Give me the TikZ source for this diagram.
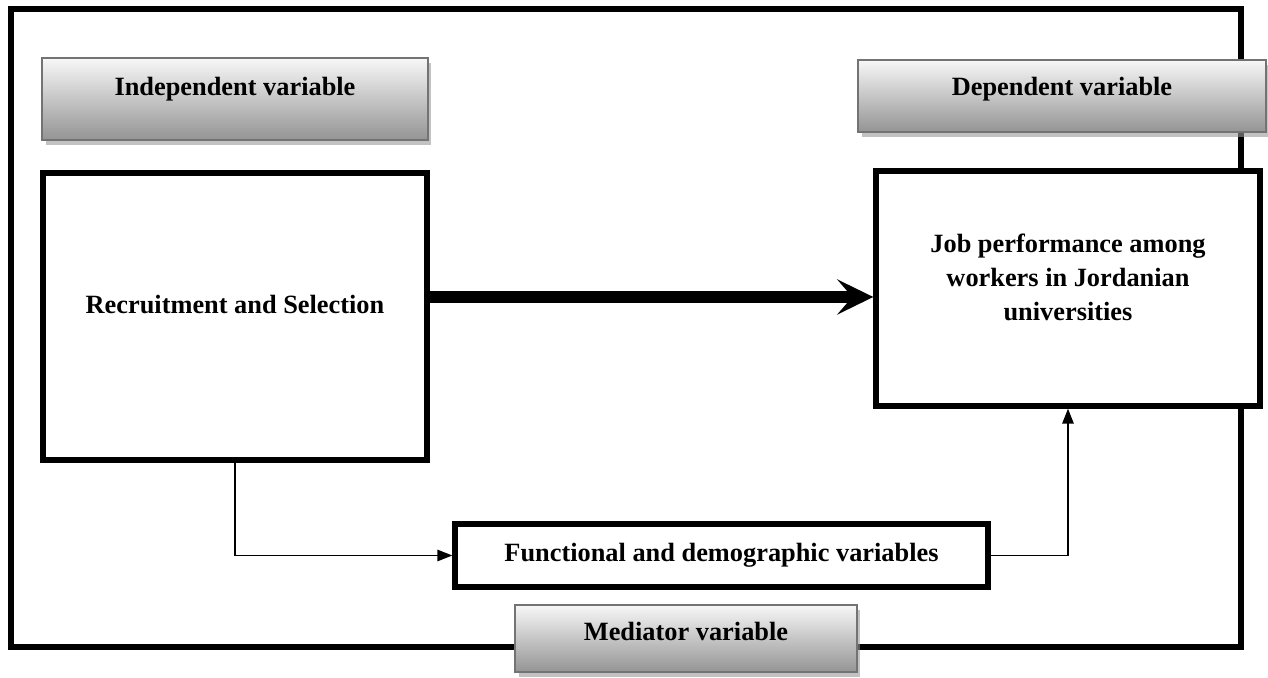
\documentclass[tikz,border=0pt]{standalone}
\usepackage{fontspec}
\setmainfont{Liberation Serif}
\usetikzlibrary{arrows.meta,shadows}

\begin{document}
\begin{tikzpicture}[x=0.02cm,y=-0.02cm,
font=\fontsize{15}{19.5}\selectfont\bfseries,
box/.style={draw,fill=white,line width=3.1pt,align=center,inner sep=0pt},
tag/.style={draw=black!55,line width=1.2pt,top color=black!3,bottom color=black!42,inner sep=0pt,anchor=base,
  drop shadow={shadow xshift=0.07cm,shadow yshift=-0.1cm,fill=black!40,opacity=0.6}},
arw/.style={-{Triangle[length=0.3cm,width=0.23cm]},line width=0.85pt},
bigarw/.style={-{Stealth[length=0.72cm,width=0.7cm,inset=0.3cm]},line width=6.8pt}
]
%\draw[help lines,step=50](0,0)grid(1268,678);
\useasboundingbox(0,0)rectangle(1268,678);
\draw[line width=3.4pt](11,9)rectangle(1241,647);

\node[box,minimum width=7.68cm,minimum height=5.74cm,text height=0.3cm,text depth=0.42cm]at(235,316.5)(rec){Recruitment and Selection};
\node[box,minimum width=7.68cm,minimum height=4.7cm,text height=1.6cm,text depth=0.3cm]at(1068,288.5)(job){Job performance among\\workers in Jordanian\\universities};
\node[box,minimum width=10.66cm,minimum height=1.26cm]at(721.5,555.5)(func){Functional and demographic variables};

\node[tag,minimum width=7.72cm,text height=0.76cm,text depth=0.88cm]at(235,96)(indep){Independent variable};
\node[tag,minimum width=8.16cm,text height=0.72cm,text depth=0.72cm]at(1062,96)(dep){Dependent variable};
\node[tag,minimum width=6.84cm,text height=0.72cm,text depth=0.62cm]at(686,641)(med){Mediator variable};

\draw[bigarw]([yshift=0.39cm]rec.east)--([yshift=-0.17cm]job.west);
\draw[arw](rec.south)|-(func.west);
\draw[arw](func.east)-|(job.south);

\end{tikzpicture}
\end{document}
